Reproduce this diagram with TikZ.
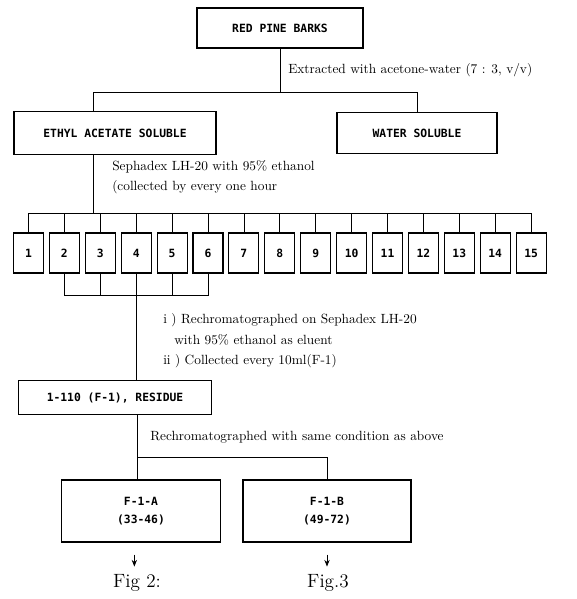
\documentclass[tikz,border=0pt]{standalone}
\usepackage{fontspec}
\usepackage{tikz}
\usetikzlibrary{arrows.meta, positioning, calc}

\newfontfamily\boxfont{DejaVu Sans Mono}

\begin{document}
\begin{tikzpicture}[
    x=0.75pt, y=-0.75pt,
    >=Stealth,
    box/.style={draw, thick, rectangle, inner sep=0pt,
                font=\boxfont\bfseries\fontsize{8.5}{10}\selectfont, align=center},
    frac/.style={box, minimum width=22.5pt, minimum height=30pt},
    note/.style={font=\normalsize, anchor=west, inner sep=0pt},
    link/.style={semithick},
    figarrow/.style={-{Stealth[length=5pt, width=4pt]}, semithick},
    figlabel/.style={font=\Large},
]
\useasboundingbox (0,0) rectangle (576,599);

% ============================================================
% EXTRACTION
% ============================================================
\node[box, minimum width=124.5pt, minimum height=30pt] (bark) at (280, 28)
    {RED PINE BARKS};
\node[box, minimum width=151.5pt, minimum height=32pt] (ethyl) at (115, 133)
    {ETHYL ACETATE SOLUBLE};
\node[box, minimum width=120pt, minimum height=31pt] (water) at (417, 133)
    {WATER SOLUBLE};

\coordinate (split) at (280, 92);
\coordinate (ethylx) at (93, 92);

\draw[link] (bark.south) -- (split);
\draw[link] (ethylx |- ethyl.north) -- (ethylx) -- (water.north |- split)
    -- (water.north);

\node[note] (extract) at (288, 70)
    {Extracted with acetone-water (7 : 3, v/v)};

% ============================================================
% SEPHADEX FRACTIONS
% ============================================================
\foreach \i in {1,...,15}
    \node[frac] (f\i) at ({28.5+(\i-1)*35.9}, 253) {\i};

\coordinate (bus) at (93, 213);
\draw[link] (ethylx |- ethyl.south) -- (bus);
\draw[link] (f1.north |- bus) -- (f15.north |- bus);
\foreach \i in {1,...,15}
    \draw[link] (f\i.north) -- (f\i.north |- bus);

\node[note] (seph) at (112, 167) {Sephadex LH-20 with 95\% ethanol};
\node[note] (hour) at (112, 187) {(collected by every one hour};

% --- pooled fractions 2--6 ---
\coordinate (pool) at (137, 295);
\draw[link] (f2.south) |- (f6.south |- pool) -- (f6.south);
\draw[link] (f3.south) -- (f3.south |- pool);
\draw[link] (f5.south) -- (f5.south |- pool);

% ============================================================
% RECHROMATOGRAPHY
% ============================================================
\node[box, minimum width=145pt, minimum height=25pt] (residue) at (115, 397.5)
    {1-110 (F-1), RESIDUE};

\draw[link] (f4.south) -- (f4.south |- residue.north);

\node[note] (rechrom) at (163, 320)
    {i ) Rechromatographed on Sephadex LH-20};
\node[note] (eluent) at (174, 340) {with 95\% ethanol as eluent};
\node[note] (collect) at (163, 361) {ii ) Collected every 10ml(F-1)};

\node[box, minimum width=119pt, minimum height=46.5pt] (fa) at (141, 511)
    {F-1-A\\[4pt](33-46)};
\node[box, minimum width=126pt, minimum height=46.5pt] (fb) at (327, 511)
    {F-1-B\\[4pt](49-72)};

\coordinate (split2) at (137, 457);
\draw[link] (split2 |- residue.south) -- (split2 |- fa.north);
\draw[link] (split2) -| (fb.north);

\node[note] (same) at (150, 437)
    {Rechromatographed with same condition as above};

% --- figures ---
\node[figlabel] (fig2) at (137, 583) {Fig 2:};
\node[figlabel] (fig3) at (328, 583) {Fig.3};

\draw[figarrow] ([xshift=-5pt, yshift=-9pt]fa.south) -- ++(0,12);
\draw[figarrow] ([yshift=-9pt]fb.south) -- ++(0,12);

\end{tikzpicture}
\end{document}
